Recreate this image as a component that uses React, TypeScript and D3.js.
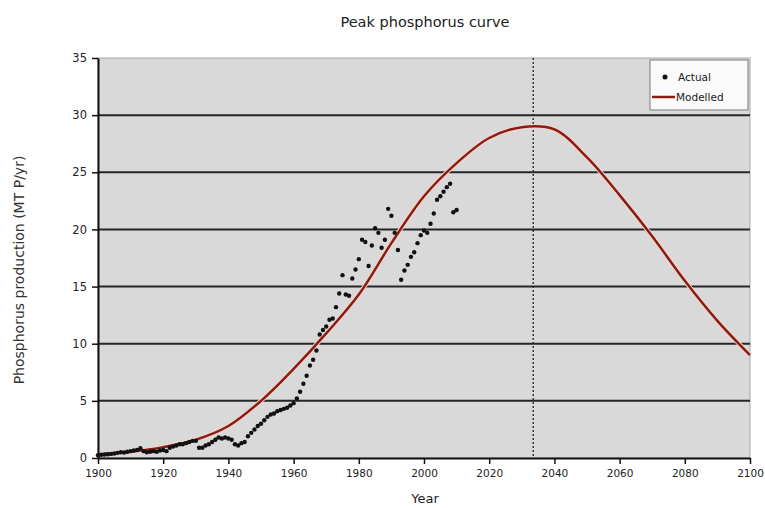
import { useEffect, useRef } from 'react';
import * as d3 from 'd3';

// Actual production (MT P/yr), one value per year from 1900
const actualStartYear = 1900;
const actualValues = [
  0.25, 0.28, 0.3, 0.33, 0.36, 0.4, 0.45, 0.5, 0.48, 0.55,
  0.6, 0.65, 0.7, 0.85, 0.6, 0.5, 0.55, 0.6, 0.55, 0.65,
  0.7, 0.6, 0.9, 1.0, 1.1, 1.2, 1.2, 1.3, 1.4, 1.5,
  1.5, 0.9, 0.9, 1.1, 1.2, 1.4, 1.6, 1.8, 1.7, 1.8,
  1.7, 1.6, 1.2, 1.1, 1.3, 1.4, 1.9, 2.2, 2.5, 2.8,
  3.0, 3.3, 3.6, 3.8, 3.9, 4.1, 4.2, 4.3, 4.4, 4.6,
  4.8, 5.2, 5.8, 6.5, 7.2, 8.1, 8.6, 9.4, 10.8, 11.2,
  11.5, 12.1, 12.2, 13.2, 14.4, 16.0, 14.3, 14.2, 15.7, 16.5,
  17.4, 19.1, 18.9, 16.8, 18.6, 20.1, 19.7, 18.4, 19.1, 21.8,
  21.2, 19.7, 18.2, 15.6, 16.4, 16.9, 17.6, 18.0, 18.8, 19.5,
  19.9, 19.7, 20.5, 21.4, 22.6, 22.9, 23.3, 23.7, 24.0, 21.5,
  21.7,
];

// Modelled (Hubbert-type) curve
const modelYears = [1900, 1910, 1920, 1930, 1940, 1950, 1960, 1970, 1980, 1990, 2000, 2010, 2020, 2030, 2040, 2050, 2060, 2070, 2080, 2090, 2100];
const modelValues = [0.3, 0.55, 0.95, 1.6, 2.8, 5.0, 7.8, 10.9, 14.3, 18.8, 22.9, 25.8, 28.0, 28.95, 28.75, 26.3, 23.0, 19.4, 15.5, 12.0, 9.0];

const peakYear = 2033.5;
const xTicks = [1900, 1920, 1940, 1960, 1980, 2000, 2020, 2040, 2060, 2080, 2100];
const yTicks = [0, 5, 10, 15, 20, 25, 30, 35];

const FONT = '"DejaVu Sans", sans-serif';

export default function App() {
  const svgRef = useRef<SVGSVGElement>(null);

  useEffect(() => {
    if (!svgRef.current) return;
    const svg = d3.select(svgRef.current);
    svg.selectAll('*').remove();

    const width = 765;
    const height = 508;
    const plot = { left: 98, right: 750, top: 58, bottom: 458 };

    const x = d3.scaleLinear().domain([1900, 2100]).range([plot.left, plot.right]);
    const y = d3.scaleLinear().domain([0, 35]).range([plot.bottom, plot.top]);

    svg.attr('width', width).attr('height', height);
    svg.append('rect').attr('width', width).attr('height', height).attr('fill', '#fff');

    // Plot background
    svg.append('rect')
      .attr('x', plot.left).attr('y', plot.top)
      .attr('width', plot.right - plot.left).attr('height', plot.bottom - plot.top)
      .attr('fill', '#d9d9d9')
      .attr('stroke', '#a8a8a8')
      .attr('stroke-width', 1);

    // Grid lines
    svg.append('g')
      .selectAll('line')
      .data(yTicks.filter(t => t > 0 && t < 35))
      .join('line')
      .attr('x1', plot.left).attr('x2', plot.right)
      .attr('y1', d => y(d)).attr('y2', d => y(d))
      .attr('stroke', '#262626')
      .attr('stroke-width', 2);

    // Peak marker
    svg.append('line')
      .attr('x1', x(peakYear)).attr('x2', x(peakYear))
      .attr('y1', plot.top).attr('y2', plot.bottom)
      .attr('stroke', '#222')
      .attr('stroke-width', 1.3)
      .attr('stroke-dasharray', '2,2');

    // Modelled curve
    const line = d3.line<number>()
      .x((_, i) => x(modelYears[i]))
      .y(d => y(d))
      .curve(d3.curveCatmullRom.alpha(0.5));

    svg.append('path')
      .datum(modelValues)
      .attr('d', line)
      .attr('fill', 'none')
      .attr('stroke', '#f3d6d0')
      .attr('stroke-width', 4.5);

    svg.append('path')
      .datum(modelValues)
      .attr('d', line)
      .attr('fill', 'none')
      .attr('stroke', '#8a1d12')
      .attr('stroke-width', 2.5);

    // Actual points
    svg.append('g')
      .selectAll('circle')
      .data(actualValues)
      .join('circle')
      .attr('cx', (_, i) => x(actualStartYear + i))
      .attr('cy', d => y(d))
      .attr('r', 2.2)
      .attr('fill', '#111');

    // Axes
    const xAxis = svg.append('g')
      .attr('transform', `translate(0,${plot.bottom})`)
      .call(d3.axisBottom(x).tickValues(xTicks).tickFormat(d3.format('d')).tickSize(6).tickSizeOuter(0));
    xAxis.select('.domain').attr('stroke', '#111').attr('stroke-width', 2);
    xAxis.selectAll('.tick line').attr('stroke', '#111').attr('stroke-width', 1.5);
    xAxis.selectAll('.tick text')
      .attr('y', 12)
      .style('font-family', FONT)
      .style('font-size', '10.5px')
      .attr('fill', '#222');

    const yAxis = svg.append('g')
      .attr('transform', `translate(${plot.left},0)`)
      .call(d3.axisLeft(y).tickValues(yTicks).tickSize(6).tickSizeOuter(0));
    yAxis.select('.domain').attr('stroke', '#111').attr('stroke-width', 2);
    yAxis.selectAll('.tick line').attr('stroke', '#111').attr('stroke-width', 1.5);
    yAxis.selectAll('.tick text')
      .attr('x', -11)
      .style('font-family', FONT)
      .style('font-size', '11.5px')
      .attr('fill', '#222');

    // Title and axis labels
    svg.append('text')
      .attr('x', 425).attr('y', 27)
      .attr('text-anchor', 'middle')
      .style('font-family', FONT)
      .style('font-size', '14.5px')
      .attr('fill', '#222')
      .text('Peak phosphorus curve');

    svg.append('text')
      .attr('x', 425).attr('y', 503)
      .attr('text-anchor', 'middle')
      .style('font-family', FONT)
      .style('font-size', '13px')
      .attr('fill', '#222')
      .text('Year');

    svg.append('text')
      .attr('transform', `translate(24,${(plot.top + plot.bottom) / 2 + 12}) rotate(-90)`)
      .attr('text-anchor', 'middle')
      .style('font-family', FONT)
      .style('font-size', '14px')
      .attr('fill', '#333')
      .text('Phosphorus production (MT P/yr)');

    // Legend
    const legend = svg.append('g').attr('transform', 'translate(650,60)');
    legend.append('rect')
      .attr('width', 98).attr('height', 50)
      .attr('fill', '#fafafa')
      .attr('stroke', '#8c8c8c')
      .attr('stroke-width', 1.2);
    legend.append('circle')
      .attr('cx', 15).attr('cy', 17).attr('r', 2.5).attr('fill', '#111');
    legend.append('text')
      .attr('x', 28).attr('y', 21)
      .style('font-family', FONT)
      .style('font-size', '10.5px')
      .attr('fill', '#222')
      .text('Actual');
    legend.append('line')
      .attr('x1', 2).attr('x2', 25).attr('y1', 37).attr('y2', 37)
      .attr('stroke', '#8a1d12').attr('stroke-width', 2.5);
    legend.append('text')
      .attr('x', 26).attr('y', 41)
      .style('font-family', FONT)
      .style('font-size', '10.5px')
      .attr('fill', '#222')
      .text('Modelled');
  }, []);

  return (
    <svg ref={svgRef} style={{ position: 'absolute', left: 0, top: 0, display: 'block' }} />
  );
}
